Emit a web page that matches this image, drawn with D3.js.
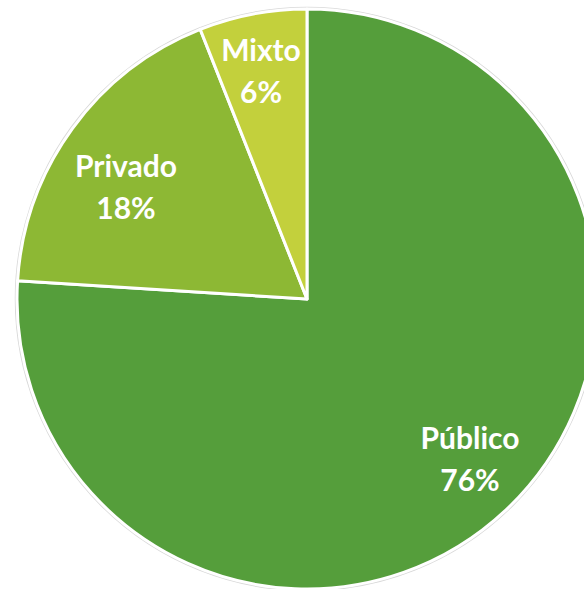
<!DOCTYPE html>
<html><head><meta charset="utf-8">
<script src="https://cdn.jsdelivr.net/npm/d3@7"></script>
<style>body{margin:0;background:#fff}svg{display:block}</style>
</head><body>
<svg id="c" width="584" height="589"></svg>
<script>
const categories = ["Público", "Privado", "Mixto"];
const values = [76, 18, 6];
const colors = ["#559E3B", "#8DB834", "#C3D03C"];
const labelPos = [[470, 449], [126, 177], [261, 61]];

const svg = d3.select("#c");
const cx = 307, cy = 299, r = 290;
const g = svg.append("g").attr("transform", `translate(${cx},${cy})`);
const pie = d3.pie().sort(null).value(d => d.v);
const data = pie(categories.map((c, i) => ({c, v: values[i], i})));
const arc = d3.arc().innerRadius(0).outerRadius(r);
g.append("circle").attr("r", r + 1.5).attr("fill", "none").attr("stroke", "#d8d8d8").attr("stroke-width", 1.5);
g.selectAll("path").data(data).join("path")
  .attr("d", arc).attr("fill", d => colors[d.data.i])
  .attr("stroke", "#fff").attr("stroke-width", 3).attr("stroke-linejoin", "round");
const t = svg.selectAll("text.l").data(data).join("text").attr("class", "l")
  .attr("text-anchor", "middle").attr("fill", "#fff")
  .attr("font-family", "Lato, 'Open Sans', sans-serif").attr("font-weight", "bold").attr("font-size", 30);
t.append("tspan").attr("x", d => labelPos[d.data.i][0]).attr("y", d => labelPos[d.data.i][1]).text(d => d.data.c);
t.append("tspan").attr("x", d => labelPos[d.data.i][0]).attr("dy", 42).text(d => d.data.v + "%");
</script>
</body></html>
